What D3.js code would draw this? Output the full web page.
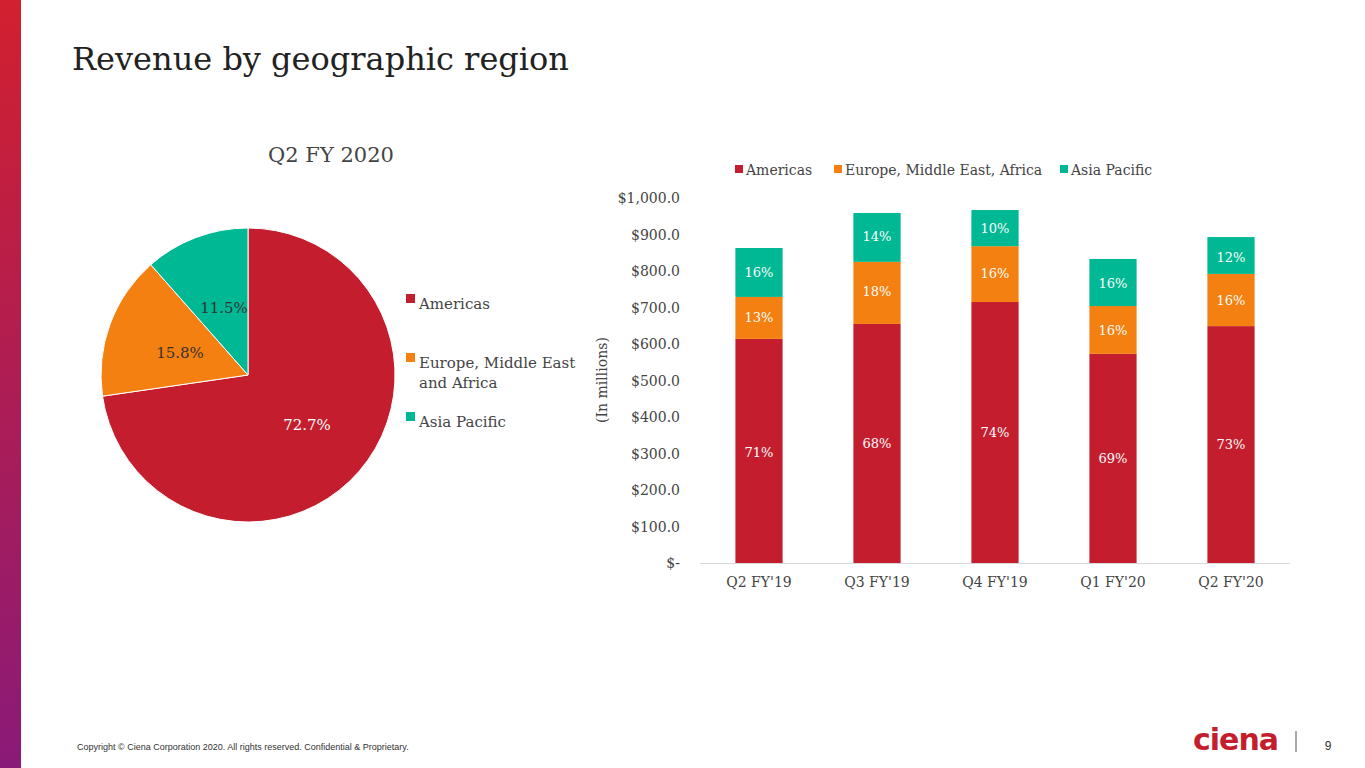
<!DOCTYPE html>
<html><head><meta charset="utf-8">
<script src="https://cdn.jsdelivr.net/npm/d3@7"></script>
<style>body{margin:0;background:#fff}svg{display:block;font-family:"DejaVu Serif",serif}</style>
</head><body><svg id="c" width="1365" height="768"></svg>
<script>
var regions = ['Americas', 'Europe, Middle East, Africa', 'Asia Pacific'];
var colors = ['#c41e2e', '#f38011', '#00b894'];
var quarters = ["Q2 FY'19", "Q3 FY'19", "Q4 FY'19", "Q1 FY'20", "Q2 FY'20"];
var americas = [614, 655, 715, 573, 649];
var emea = [115, 170, 153, 131, 143];
var apac = [134, 134, 99, 129, 101];
var pctLabels = [['71%','13%','16%'],['68%','18%','14%'],['74%','16%','10%'],['69%','16%','16%'],['73%','16%','12%']];
var pieValues = [72.7, 15.8, 11.5];
var pieLegend = [['Americas'], ['Europe, Middle East', 'and Africa'], ['Asia Pacific']];
var yTicks = [0,100,200,300,400,500,600,700,800,900,1000];

var svg = d3.select('#c');
var defs = svg.append('defs');
var g = defs.append('linearGradient').attr('id','side').attr('x1',0).attr('y1',0).attr('x2',0).attr('y2',1);
g.append('stop').attr('offset','0%').attr('stop-color','#d2202f');
g.append('stop').attr('offset','100%').attr('stop-color','#8a1a78');
svg.append('rect').attr('x',0).attr('y',0).attr('width',21).attr('height',768).attr('fill','url(#side)');

svg.append('text').attr('x',72).attr('y',70).attr('font-size',32).attr('fill','#222').text('Revenue by geographic region');
svg.append('text').attr('x',331).attr('y',162).attr('text-anchor','middle').attr('font-size',21).attr('fill','#444').text('Q2 FY 2020');

// pie
var pie = d3.pie().sort(null).value(function(d){return d;});
var arc = d3.arc().innerRadius(0).outerRadius(147);
var pg = svg.append('g').attr('transform','translate(248,375)');
pg.selectAll('path').data(pie(pieValues)).enter().append('path')
  .attr('d',arc).attr('fill',function(d,i){return colors[i];}).attr('stroke','#fff').attr('stroke-width',1);
var pieLabelPos = [[59, 430], [-68, 358], [-24, 313]];
pieValues.forEach(function(v,i){
  svg.append('text').attr('x',248+pieLabelPos[i][0]).attr('y',pieLabelPos[i][1]).attr('text-anchor','middle')
    .attr('font-size',15).attr('fill',i==0?'#fff':'#333').text(v.toFixed(1)+'%');
});
var legY = [304, 363, 422];
pieLegend.forEach(function(lines,i){
  svg.append('rect').attr('x',406).attr('y',legY[i]-10).attr('width',9).attr('height',9).attr('fill',colors[i]);
  lines.forEach(function(t,j){
    svg.append('text').attr('x',419).attr('y',legY[i]+5+j*20).attr('font-size',15).attr('fill','#444').text(t);
  });
});

// bars
var x = d3.scaleBand().domain(quarters).range([700,1290]).paddingInner(0.6).paddingOuter(0.3);
var y = d3.scaleLinear().domain([0,1000]).range([563,198]);
var stackData = quarters.map(function(q,i){return {q:q, a:americas[i], e:emea[i], p:apac[i]};});
var series = d3.stack().keys(['a','e','p'])(stackData);
var bg = svg.append('g');
series.forEach(function(s,k){
  bg.selectAll(null).data(s).enter().append('rect')
    .attr('x',function(d){return x(d.data.q);}).attr('width',x.bandwidth())
    .attr('y',function(d){return y(d[1]);}).attr('height',function(d){return y(d[0])-y(d[1]);})
    .attr('fill',colors[k]);
});
var labelY = [[457, 448, 437, 463, 449], [322, 296, 278, 335, 305], [277, 241, 233, 288, 262]];
series.forEach(function(s,k){
  s.forEach(function(d,i){
    svg.append('text').attr('x',x(d.data.q)+x.bandwidth()/2).attr('y',labelY[k][i]).attr('text-anchor','middle')
      .attr('font-size',13).attr('fill','#fff').text(pctLabels[i][k]);
  });
});
svg.append('line').attr('x1',700).attr('x2',1290).attr('y1',563.5).attr('y2',563.5).attr('stroke','#d9d9d9');
var ya = svg.append('g');
yTicks.forEach(function(t){
  ya.append('text').attr('x',680).attr('y',y(t)+5).attr('text-anchor','end').attr('font-size',14).attr('fill','#444')
    .text(t===0?'$-':'$'+d3.format(',.1f')(t));
});
quarters.forEach(function(q){
  svg.append('text').attr('x',x(q)+x.bandwidth()/2).attr('y',587).attr('text-anchor','middle').attr('font-size',14).attr('fill','#444').text(q);
});
svg.append('text').attr('transform','translate(607,380) rotate(-90)').attr('text-anchor','middle').attr('font-size',14).attr('fill','#444').text('(In millions)');
var lx = [735, 834, 1060];
regions.forEach(function(r,i){
  svg.append('rect').attr('x',lx[i]).attr('y',165).attr('width',8).attr('height',8).attr('fill',colors[i]);
  svg.append('text').attr('x',lx[i]+11).attr('y',175).attr('font-size',14).attr('fill','#444').text(r);
});

// footer
svg.append('text').attr('x',77).attr('y',750).attr('font-size',9).attr('font-family','Liberation Sans, sans-serif').attr('fill','#333')
  .text('Copyright \u00A9 Ciena Corporation 2020. All rights reserved. Confidential & Proprietary.');
svg.append('text').attr('x',1193).attr('y',750).attr('font-size',30).attr('font-weight','bold').attr('font-family','DejaVu Sans, sans-serif').attr('fill','#c41e2e').attr('letter-spacing',-1).text('ciena');
svg.append('line').attr('x1',1296).attr('x2',1296).attr('y1',731).attr('y2',752).attr('stroke','#555');
svg.append('text').attr('x',1328).attr('y',750).attr('text-anchor','middle').attr('font-size',12).attr('font-family','Liberation Sans, sans-serif').attr('fill','#333').text('9');
</script></body></html>
